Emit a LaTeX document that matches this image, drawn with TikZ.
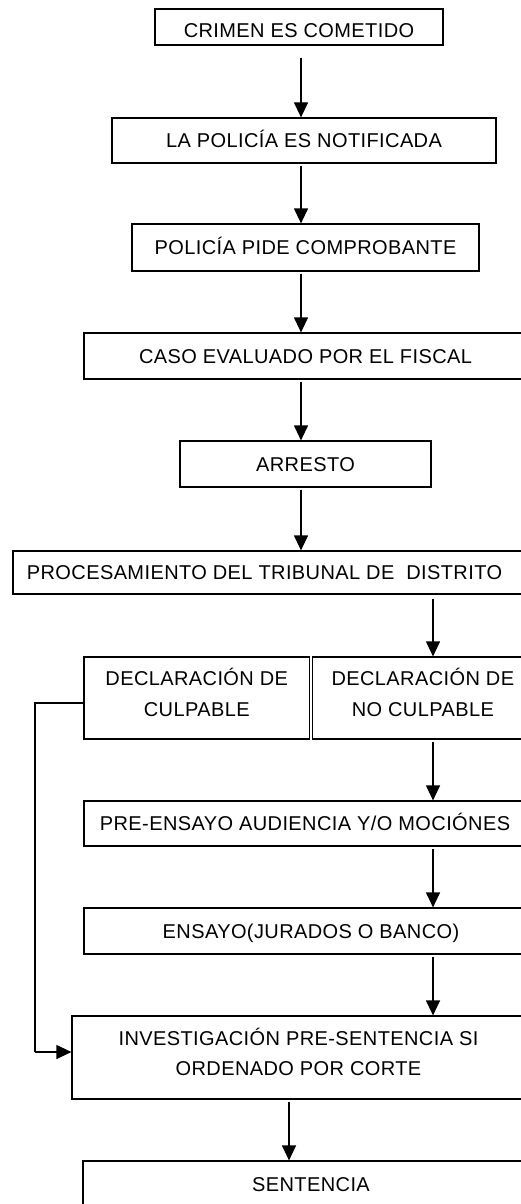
\documentclass[tikz,border=0pt]{standalone}
\usepackage{fontspec}
\setmainfont{Liberation Sans}[LetterSpace=2]
\usetikzlibrary{arrows.meta}
\begin{document}
\begin{tikzpicture}[x=1pt,y=-1pt,
  box/.style={draw, line width=1.2pt, inner sep=0pt, align=center,
    font=\fontsize{20}{30.7}\selectfont},
  one/.style={text height=14.3pt, text depth=0pt},
  two/.style={text depth=11.5pt},
  arr/.style={line width=1.2pt, -{Triangle[length=15pt,width=14pt]}},
  link/.style={line width=1.2pt}]
\useasboundingbox (0,0) rectangle (521,1204);
\clip (0,0) rectangle (521,1204);
\fill[white] (0,0) rectangle (521,1204);
\coordinate (ax) at (301,0);
\coordinate (bx) at (433,0);
\coordinate (cx) at (289,0);
\node[box, text height=21pt, text depth=0pt, minimum width=288pt, minimum height=36pt] (c1) at (299,27) {CRIMEN ES COMETIDO};
\node[box, one, minimum width=384pt, minimum height=45pt] (c2) at (304,140.5) {LA POLICÍA ES NOTIFICADA};
\node[box, one, minimum width=347pt, minimum height=47pt] (c3) at (305.5,247.5) {POLICÍA PIDE COMPROBANTE};
\node[box, one, minimum width=443pt, minimum height=46pt] (c4) at (305.5,356) {CASO EVALUADO POR EL FISCAL};
\node[box, one, minimum width=251pt, minimum height=46pt] (c5) at (305.5,464) {ARRESTO};
\node[box, one, minimum width=517pt, minimum height=43pt] (c6) at (271.5,572.5) {PROCESAMIENTO DEL TRIBUNAL DE \ DISTRITO\hspace*{14pt}};
\node[box, two, minimum width=225.5pt, minimum height=82pt] (d1) at (196.75,698) {DECLARACIÓN DE\\CULPABLE};
\node[box, two, minimum width=220.3pt, minimum height=82pt] (d2) at (422.85,698) {DECLARACIÓN DE\\NO CULPABLE};
\node[box, one, minimum width=442pt, minimum height=45pt] (p1) at (305,823.5) {PRE-ENSAYO AUDIENCIA Y/O MOCIÓNES};
\node[box, one, minimum width=454pt, minimum height=46pt] (e1) at (311,931) {ENSAYO(JURADOS O BANCO)};
\node[box, two, minimum width=453pt, minimum height=83pt] (i1) at (298.5,1057.5) {INVESTIGACIÓN PRE-SENTENCIA SI\\ORDENADO POR CORTE};
\node[box, one, minimum width=456pt, minimum height=46pt] (s1) at (311,1184) {SENTENCIA};
\draw[arr, shorten <=12pt] (c1.south -| ax) -- (c2.north -| ax);
\draw[arr, shorten <=2pt] (c2.south -| ax) -- (c3.north -| ax);
\draw[arr, shorten <=2pt] (c3.south -| ax) -- (c4.north -| ax);
\draw[arr, shorten <=2pt] (c4.south -| ax) -- (c5.north -| ax);
\draw[arr, shorten <=2pt] (c5.south -| ax) -- (c6.north -| ax);
\draw[arr, shorten <=4pt] (c6.south -| bx) -- (d2.north -| bx);
\draw[arr, shorten <=2pt] (d2.south -| bx) -- (p1.north -| bx);
\draw[arr, shorten <=2pt] (p1.south -| bx) -- (e1.north -| bx);
\draw[arr, shorten <=2pt] (e1.south -| bx) -- (i1.north -| bx);
\draw[arr, shorten <=2pt] (i1.south -| cx) -- (s1.north -| cx);
\coordinate (k1) at (35,703);
\coordinate (k2) at (35,1052);
\draw[link] (d1.west |- k1) -- (k1) -- (k2);
\draw[arr] (k2) -- (i1.west |- k2);
\end{tikzpicture}
\end{document}
